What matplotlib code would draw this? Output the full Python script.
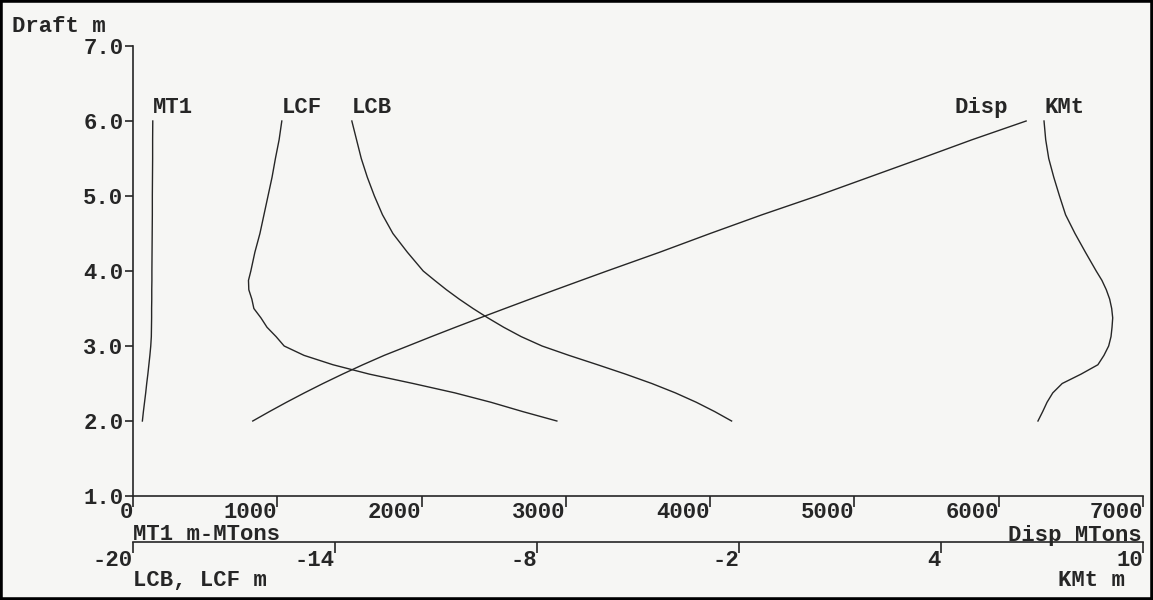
import matplotlib.pyplot as plt
from matplotlib.patches import Rectangle

plt.rcParams['font.family'] = 'Liberation Mono'
plt.rcParams['font.weight'] = 'bold'
plt.rcParams['axes.unicode_minus'] = False

# hydrostatic curves
draft = [2.000, 2.125, 2.250, 2.375, 2.500, 2.625, 2.750, 2.875, 3.000,
         3.125, 3.250, 3.375, 3.500, 3.625, 3.750, 3.875, 4.000,
         4.25, 4.50, 4.75, 5.00, 5.25, 5.50, 5.75, 6.00]
mt1 = [65, 72, 80, 88, 95, 103, 110, 117, 123,
       127, 128, 129, 129, 130, 130, 131, 131,
       132, 133, 134, 134, 135, 136, 136, 137]
disp = [830, 945, 1064, 1188, 1317, 1452, 1593, 1741, 1905,
        2068, 2235, 2405, 2578, 2752, 2928, 3106, 3285,
        3650, 4000, 4360, 4740, 5100, 5460, 5815, 6190]
lcf = [-7.41, -8.42, -9.37, -10.44, -11.68, -12.98, -14.06, -14.92, -15.51,
       -15.75, -16.02, -16.20, -16.41, -16.47, -16.56, -16.57, -16.50,
       -16.38, -16.23, -16.11, -15.99, -15.87, -15.77, -15.66, -15.58]
lcb = [-2.22, -2.72, -3.27, -3.89, -4.59, -5.37, -6.20, -7.05, -7.85,
       -8.47, -8.99, -9.46, -9.90, -10.31, -10.69, -11.04, -11.38,
       -11.85, -12.28, -12.59, -12.83, -13.04, -13.22, -13.36, -13.50]
kmt = [6.88, 7.02, 7.15, 7.32, 7.60, 8.16, 8.66, 8.84, 8.98,
       9.05, 9.08, 9.10, 9.07, 9.01, 8.91, 8.78, 8.61,
       8.29, 7.98, 7.70, 7.52, 7.35, 7.20, 7.11, 7.06]

disp_ticks = [0, 1000, 2000, 3000, 4000, 5000, 6000, 7000]
lc_ticks = [-20, -14, -8, -2, 4, 10]
draft_ticks = [1.0, 2.0, 3.0, 4.0, 5.0, 6.0, 7.0]

W, H = 1153, 600
ink = '#262626'
fs = 16


def fx(px):
    return px / W


def fy(py):
    return 1 - py / H


fig = plt.figure(figsize=(W / 100, H / 100), dpi=100, facecolor='#f6f6f4')

# main axes: draft vs displacement / MT1
ax = fig.add_axes([fx(133), fy(496), 1010 / W, 450 / H])
ax.set_facecolor('none')
ax.set_xlim(0, 7000)
ax.set_ylim(1, 7)
for s in ('top', 'right'):
    ax.spines[s].set_visible(False)
for s in ('left', 'bottom'):
    ax.spines[s].set_color(ink)
    ax.spines[s].set_linewidth(1.2)
ax.set_xticks(disp_ticks)
ax.set_xticklabels([str(t) for t in disp_ticks], ha='right')
ax.set_yticks(draft_ticks)
ax.set_yticklabels(['%.1f' % t for t in draft_ticks])
ax.tick_params(axis='x', direction='out', length=8, width=1.2, pad=-4,
               labelsize=fs, colors=ink)
ax.tick_params(axis='y', direction='out', length=6, width=1.2, pad=1,
               labelsize=fs, colors=ink)

ax.plot(mt1, draft, color=ink, lw=1.0)
ax.plot(disp, draft, color=ink, lw=1.0)

# second scale: LCB, LCF and KMt in metres
ax2 = ax.twiny()
ax2.set_xlim(-20, 10)
for s in ('top', 'left', 'right'):
    ax2.spines[s].set_visible(False)
ax2.spines['bottom'].set_visible(True)
ax2.spines['bottom'].set_position(('outward', 46 * 72 / 100))
ax2.spines['bottom'].set_color(ink)
ax2.spines['bottom'].set_linewidth(1.2)
ax2.xaxis.set_ticks_position('bottom')
ax2.set_xticks(lc_ticks)
ax2.set_xticklabels([str(t) for t in lc_ticks], ha='right')
ax2.tick_params(axis='x', direction='out', length=8, width=1.2, pad=-2,
                labelsize=fs, colors=ink)

ax2.plot(lcf, draft, color=ink, lw=1.0)
ax2.plot(lcb, draft, color=ink, lw=1.0)
ax2.plot(kmt, draft, color=ink, lw=1.0)

# curve names at the top of each curve
lbl = dict(textcoords='offset pixels', va='bottom', fontsize=fs, color=ink)
ax.annotate('MT1', xy=(mt1[-1], draft[-1]), xytext=(0, 3), ha='left', **lbl)
ax.annotate('Disp', xy=(disp[-1], draft[-1]), xytext=(-18, 3), ha='right', **lbl)
ax2.annotate('LCF', xy=(lcf[-1], draft[-1]), xytext=(0, 3), ha='left', **lbl)
ax2.annotate('LCB', xy=(lcb[-1], draft[-1]), xytext=(0, 3), ha='left', **lbl)
ax2.annotate('KMt', xy=(kmt[-1], draft[-1]), xytext=(0, 3), ha='left', **lbl)

# axis titles
fig.text(fx(12), fy(27), 'Draft m', ha='left', va='center', fontsize=fs, color=ink)
fig.text(fx(133), fy(535), 'MT1 m-MTons', ha='left', va='center', fontsize=fs, color=ink)
fig.text(fx(1142), fy(535), 'Disp MTons', ha='right', va='center', fontsize=fs, color=ink)
fig.text(fx(133), fy(580), 'LCB, LCF m', ha='left', va='center', fontsize=fs, color=ink)
fig.text(fx(1125), fy(580), 'KMt m', ha='right', va='center', fontsize=fs, color=ink)

# black frame around the sheet
fig.patches.append(Rectangle((0, 0), 1, 1, transform=fig.transFigure,
                             fill=False, lw=4, ec='black'))

fig.savefig('out.png', dpi=100, facecolor=fig.get_facecolor())
